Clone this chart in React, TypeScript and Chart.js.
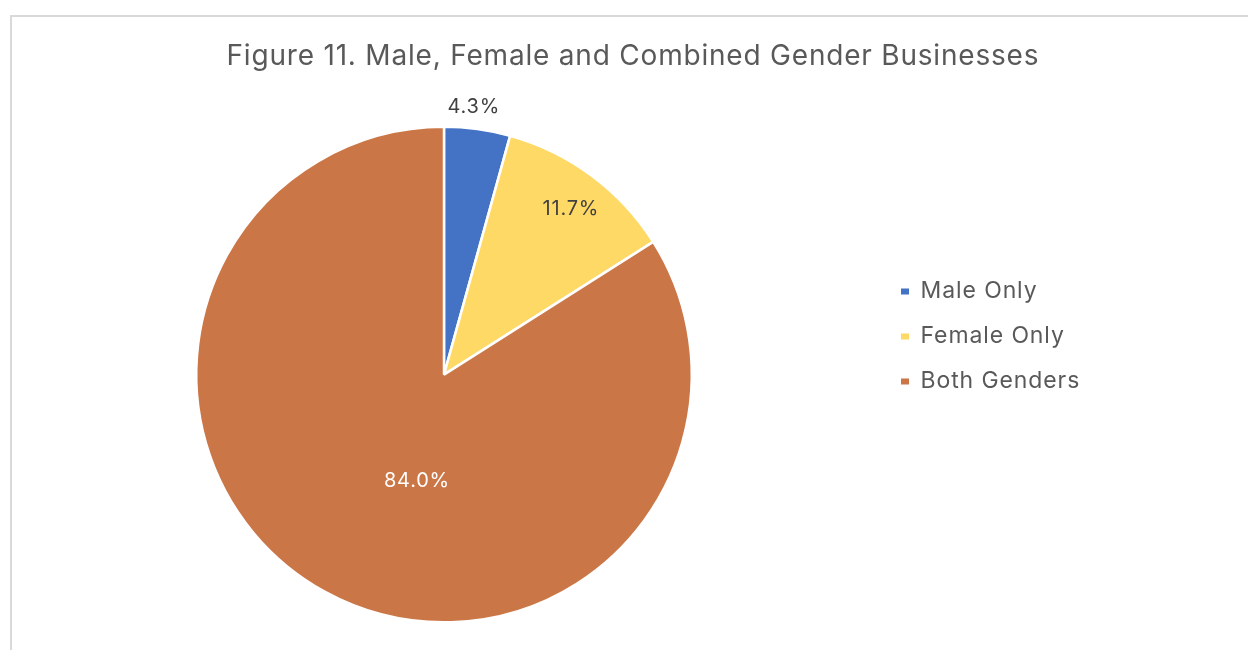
import React, { useEffect, useRef } from 'react';
import { Chart, registerables } from 'chart.js';

Chart.register(...registerables);

const TITLE = 'Figure 11. Male, Female and Combined Gender Businesses';
const CATEGORIES = ['Male Only', 'Female Only', 'Both Genders'];
const SHARES = [4.3, 11.7, 84.0];
const COLORS = ['#4472C4', '#FFD966', '#CB7646'];
const LABEL_COLORS = ['#404040', '#404040', '#FFFFFF'];
// label placement: fraction of outer radius, fraction along the slice's angle
const LABEL_RADIUS = [1.087, 0.842, 0.442];
const LABEL_ANGLE = [0.41, 0.522, 0.452];

const FONT = 'Inter, "Noto Sans", "Liberation Sans", sans-serif';

const sliceLabels = {
  id: 'sliceLabels',
  afterDatasetsDraw(chart: any) {
    const meta = chart.getDatasetMeta(0);
    const data = chart.data.datasets[0].data as number[];
    const total = data.reduce((a, b) => a + b, 0);
    const ctx = chart.ctx;
    ctx.save();
    ctx.font = `20px ${FONT}`;
    (ctx as any).letterSpacing = '0.8px';
    ctx.textAlign = 'center';
    ctx.textBaseline = 'middle';
    meta.data.forEach((arc: any, i: number) => {
      const { x, y, startAngle, endAngle, outerRadius } = arc.getProps(
        ['x', 'y', 'startAngle', 'endAngle', 'outerRadius'],
        true
      );
      const a = startAngle + (endAngle - startAngle) * LABEL_ANGLE[i];
      const r = outerRadius * LABEL_RADIUS[i];
      ctx.fillStyle = LABEL_COLORS[i];
      ctx.fillText(((data[i] / total) * 100).toFixed(1) + '%', x + Math.cos(a) * r, y + Math.sin(a) * r);
    });
    (ctx as any).letterSpacing = '0px';
    ctx.restore();
  },
};

function withSpacing(box: any, spacing: string) {
  if (!box || box.__spaced) return;
  const draw = box.draw;
  box.draw = function (...args: any[]) {
    const ctx = this.ctx;
    const prev = ctx.letterSpacing;
    ctx.letterSpacing = spacing;
    draw.apply(this, args);
    ctx.letterSpacing = prev || '0px';
  };
  box.__spaced = true;
}

const boxTweaks = {
  id: 'boxTweaks',
  beforeLayout(chart: any, _args: any, opts: any) {
    const lg = chart.legend;
    if (lg && !lg.__patched) {
      const fit = lg.fit;
      lg.fit = function () {
        fit.call(this);
        this.width = opts.legendWidth;
      };
      lg.__patched = true;
    }
    withSpacing(lg, opts.legendSpacing);
    withSpacing(chart.titleBlock, opts.titleSpacing);
  },
  afterLayout(chart: any, _args: any, opts: any) {
    const lg = chart.legend;
    if (!lg) return;
    lg.top += opts.legendDy;
    lg.bottom += opts.legendDy;
  },
};

export default function App() {
  const ref = useRef<HTMLCanvasElement | null>(null);

  useEffect(() => {
    if (!ref.current) return;
    const chart = new Chart(ref.current, {
      type: 'pie',
      data: {
        labels: CATEGORIES,
        datasets: [
          {
            data: SHARES,
            backgroundColor: COLORS,
            borderColor: '#FFFFFF',
            borderWidth: 2.5,
          },
        ],
      },
      plugins: [sliceLabels, boxTweaks],
      options: {
        responsive: false,
        animation: false,
        devicePixelRatio: 1,
        layout: { padding: { left: 9, right: 1.2, top: 0, bottom: 26.4 } },
        plugins: {
          title: {
            display: true,
            text: TITLE,
            color: '#595959',
            font: { family: FONT, size: 28, weight: 'normal' },
            padding: { top: 39.7, bottom: 52.3 },
          },
          legend: {
            position: 'right',
            labels: {
              color: '#595959',
              font: { family: FONT, size: 23 },
              boxWidth: 8,
              boxHeight: 6,
              padding: 22,
              generateLabels: (c: any) =>
                (Chart as any).overrides.pie.plugins.legend.labels
                  .generateLabels(c)
                  .map((l: any) => ({ ...l, lineWidth: 0 })),
            },
          },
          tooltip: { enabled: false },
          boxTweaks: {
            legendWidth: 377.8,
            legendDy: 24.7,
            legendSpacing: '0.9px',
            titleSpacing: '0.8px',
          },
        } as any,
      },
    });
    return () => chart.destroy();
  }, []);

  return (
    <div
      style={{
        position: 'fixed',
        left: 0,
        top: 0,
        width: 1248,
        height: 650,
        overflow: 'hidden',
        background: '#FFFFFF',
      }}
    >
      <div
        style={{
          position: 'absolute',
          left: 10,
          top: 15,
          width: 1300,
          height: 700,
          border: '2px solid #D9D9D9',
        }}
      />
      <canvas
        ref={ref}
        width={1258}
        height={650}
        style={{ position: 'absolute', left: 0, top: 0, width: 1258, height: 650 }}
      />
    </div>
  );
}
